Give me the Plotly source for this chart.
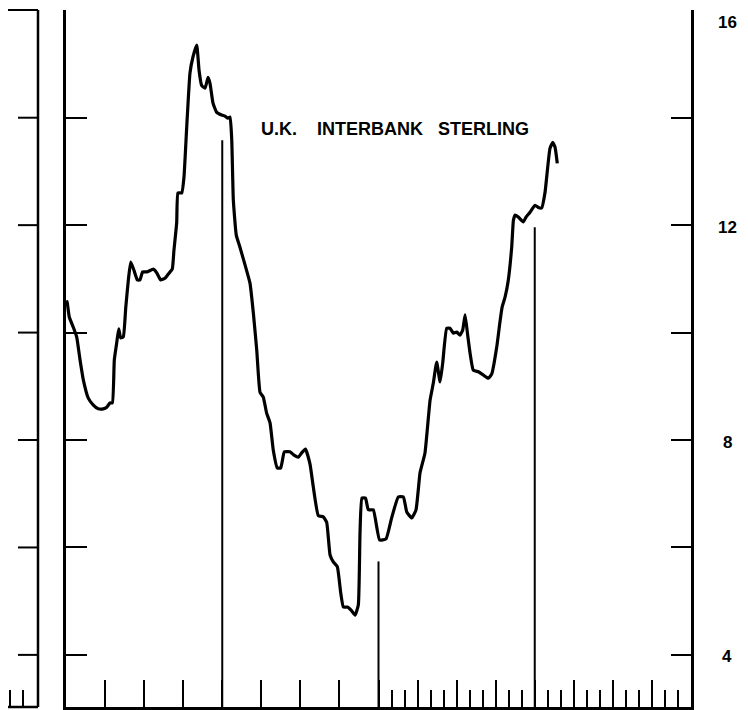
import plotly.graph_objects as go

# ---- data (months since start of the panel, rate in %) ----
months = [0.04, 0.10, 0.25, 0.56, 0.82, 1.08, 1.33, 1.71, 2.10, 2.48, 2.86, 3.13, 3.38, 3.56,
          3.71, 3.89, 4.05, 4.20, 4.40, 4.59, 4.79, 4.97, 5.22, 5.48, 5.68, 5.89, 6.24, 6.71,
          6.97, 7.27, 7.60, 7.86, 8.16, 8.29, 8.50, 8.60, 8.89, 9.06, 9.27, 9.52, 9.75, 10.04,
          10.22, 10.42, 10.68, 10.91, 11.06, 11.29, 11.57, 11.96, 12.21, 12.44, 12.60, 12.73,
          12.85, 13.08, 13.36, 13.75, 14.13, 14.39, 14.65, 14.90, 15.15, 15.41, 15.67, 15.92,
          16.23, 16.49, 16.77, 17.20, 17.51, 17.84, 18.10, 18.39, 18.74, 18.99, 19.38, 19.76,
          20.02, 20.28, 20.53, 20.84, 21.10, 21.30, 21.61, 21.94, 22.20, 22.45, 22.58, 22.73,
          23.00, 23.22, 23.60, 24.08, 24.58, 25.01, 25.52, 25.91, 26.17, 26.55, 26.88, 27.19,
          27.57, 27.96, 28.21, 28.47, 28.73, 28.93, 29.24, 29.49, 29.75, 30.01, 30.26, 30.47,
          30.65, 30.85, 31.03, 31.28, 31.67, 32.05, 32.43, 32.70, 33.08, 33.33, 33.49, 33.72,
          33.97, 34.23, 34.36, 34.49, 34.74, 35.12, 35.33, 35.64, 36.02, 36.27, 36.53, 36.79,
          36.97, 37.17, 37.38, 37.56, 37.73]
rates = [10.60, 10.55, 10.29, 10.10, 9.92, 9.49, 9.12, 8.78, 8.65, 8.58, 8.58, 8.61, 8.69, 8.69,
         9.49, 9.80, 10.07, 9.90, 9.92, 10.47, 10.98, 11.31, 11.16, 10.98, 10.98, 11.13, 11.13, 11.18,
         11.11, 10.98, 11.01, 11.09, 11.18, 11.53, 12.04, 12.60, 12.60, 12.89, 13.82, 14.83, 15.13, 15.35,
         14.88, 14.60, 14.55, 14.75, 14.64, 14.27, 14.10, 14.05, 14.03, 13.99, 14.01, 13.58,
         12.47, 11.81, 11.59, 11.26, 10.92, 10.36, 9.67, 8.89, 8.80, 8.50, 8.32, 7.81,
         7.48, 7.48, 7.78, 7.78, 7.72, 7.68, 7.76, 7.83, 7.55, 7.13, 6.59, 6.57,
         6.47, 5.86, 5.73, 5.64, 5.15, 4.89, 4.89, 4.82, 4.74, 4.93, 6.27, 6.92,
         6.92, 6.70, 6.70, 6.14, 6.16, 6.55, 6.94, 6.94, 6.66, 6.55, 6.70, 7.39,
         7.76, 8.74, 9.06, 9.45, 9.08, 9.43, 10.08, 10.08, 9.99, 10.01, 9.95, 10.05,
         10.33, 9.95, 9.62, 9.30, 9.27, 9.21, 9.15, 9.23, 9.73, 10.20, 10.47, 10.66,
         10.98, 11.59, 12.09, 12.19, 12.15, 12.06, 12.15, 12.24, 12.37, 12.33, 12.32, 12.61,
         13.02, 13.43, 13.54, 13.45, 13.15]

year_marker_months = [12, 24, 36]
year_marker_tops = [13.58, 5.74, 11.96]

y_tick_values = [4, 6, 8, 10, 12, 14, 16]
y_label_values = [4, 8, 12, 16]
quarter_ticks = [3, 6, 9, 12, 15, 18, 21, 24, 27, 30, 33, 36, 39, 42, 45]
month_ticks = [25, 26, 28, 29, 31, 32, 34, 35, 37, 38, 40, 41, 43, 44, 46, 47]
title_text = "<b>U.K.\u00a0\u00a0\u00a0\u00a0INTERBANK\u00a0\u00a0\u00a0STERLING</b>"

Y_MIN, Y_MAX = 3.03, 16.005
X_MIN, X_MAX = 0, 48

# page body has an 8px default margin: figure sized/placed to compensate
BODY = 8
FIG_W, FIG_H = 748 - BODY, 710 - BODY
ML, MR, MT, MB = 66 - BODY, 57, 10 - BODY, 3
PLOT_W = FIG_W - ML - MR     # 625
PLOT_H = FIG_H - MT - MB     # 697

FONT = "Liberation Sans, Arial, sans-serif"

fig = go.Figure()

fig.add_trace(go.Scatter(x=months, y=rates, mode="lines",
                         line=dict(color="black", width=3.2, shape="spline", smoothing=0.4),
                         hoverinfo="skip"))

mx, my = [], []
for m, t in zip(year_marker_months, year_marker_tops):
    mx += [m, m, None]
    my += [Y_MIN, t, None]
fig.add_trace(go.Scatter(x=mx, y=my, mode="lines",
                         line=dict(color="black", width=2), hoverinfo="skip"))

# invisible trace so right axis renders
fig.add_trace(go.Scatter(x=[X_MIN], y=[Y_MIN], yaxis="y2", mode="markers",
                         marker=dict(opacity=0), hoverinfo="skip"))

axis_common = dict(showgrid=False, zeroline=False, showline=True, linecolor="black",
                   linewidth=2.5, ticks="inside", tickcolor="black", tickwidth=2,
                   showticklabels=False)

fig.update_layout(
    width=FIG_W, height=FIG_H,
    margin=dict(l=ML, r=MR, t=MT, b=MB, autoexpand=False),
    paper_bgcolor="white", plot_bgcolor="white",
    showlegend=False,
    xaxis=dict(range=[X_MIN, X_MAX], tickmode="array", tickvals=quarter_ticks, ticklen=27,
               minor=dict(tickmode="array", tickvals=month_ticks, ticks="inside", ticklen=17,
                          tickwidth=2, tickcolor="black"),
               **axis_common),
    yaxis=dict(range=[Y_MIN, Y_MAX], tickmode="array", tickvals=y_tick_values, ticklen=21,
               **axis_common),
    yaxis2=dict(range=[Y_MIN, Y_MAX], overlaying="y", side="right", tickmode="array",
                tickvals=y_tick_values, ticklen=20, **axis_common),
)

# right-hand labels
for v in y_label_values:
    fig.add_annotation(x=1, xref="paper", y=v, yref="y", text=f"<b>{v}</b>", showarrow=False,
                       xanchor="center", yanchor="middle", xshift=36,
                       yshift=-12 if v == 16 else -2,
                       font=dict(family=FONT, size=17, color="black"))

fig.add_annotation(x=(259 - 66) / PLOT_W, xref="paper", y=(707 - 129) / PLOT_H, yref="paper",
                   text=title_text, showarrow=False, xanchor="left", yanchor="middle",
                   font=dict(family=FONT, size=18, color="black"))

# neighbouring panel edge on the left (decorative frame)
def px(xpix):
    return (xpix - 66) / PLOT_W

shapes = []
shapes.append(dict(type="line", xref="paper", yref="paper", x0=px(38), x1=px(38), y0=0, y1=1,
                   line=dict(color="black", width=2.5)))
shapes.append(dict(type="line", xref="paper", yref="paper", x0=px(0), x1=px(38), y0=0, y1=0,
                   line=dict(color="black", width=2.5)))
shapes.append(dict(type="line", xref="paper", yref="paper", x0=px(8), x1=px(38), y0=1, y1=1,
                   line=dict(color="black", width=2)))
for v in y_tick_values[:-1]:
    shapes.append(dict(type="line", xref="paper", yref="y", x0=px(18), x1=px(38), y0=v, y1=v,
                       line=dict(color="black", width=2)))
for xp in [10, 23]:
    shapes.append(dict(type="line", xref="paper", yref="paper", x0=px(xp), x1=px(xp),
                       y0=0, y1=17 / PLOT_H, line=dict(color="black", width=2)))
fig.update_layout(shapes=shapes)

fig.write_html("out.html")
